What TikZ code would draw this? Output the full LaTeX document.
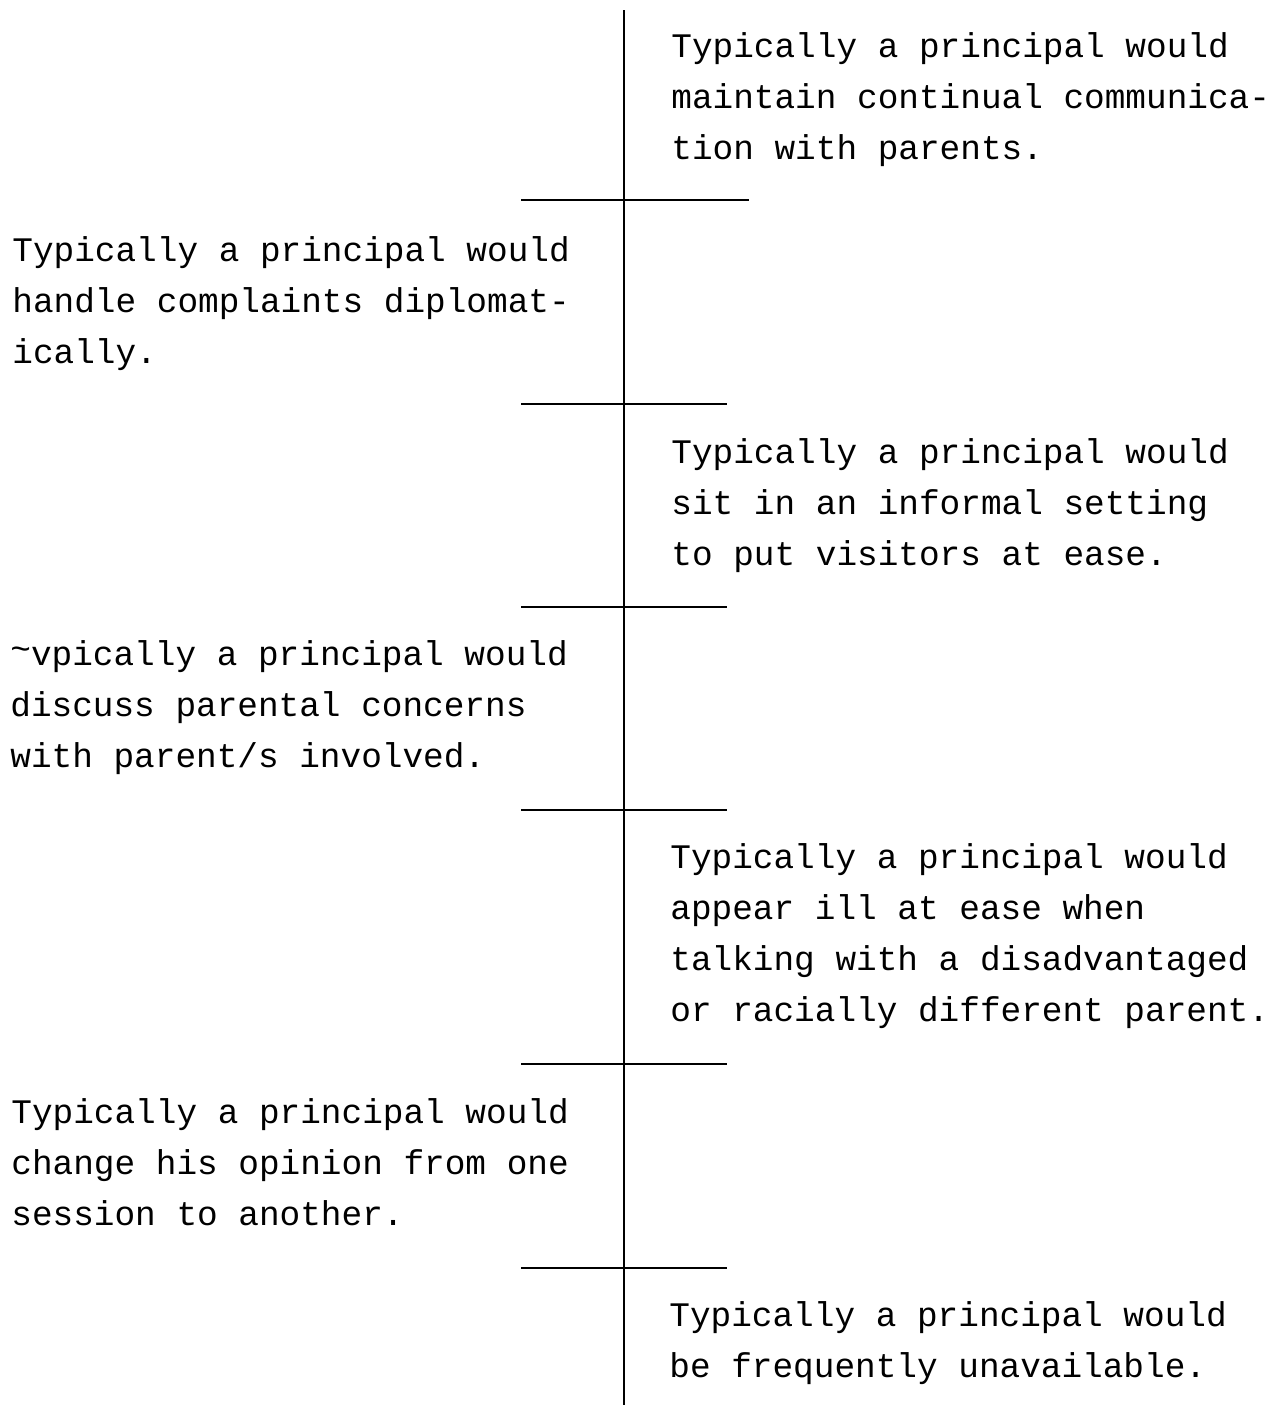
\documentclass[tikz,border=0pt]{standalone}
\usepackage{fontspec}
\setmonofont{Liberation Mono}
\begin{document}
\begin{tikzpicture}[x=0.5pt,y=-0.5pt,
  rule/.style={line width=1.4pt,black},
  % multi-line blocks are anchored at the baseline of their last line
  item/.style={anchor=base west,align=left,inner sep=0pt,
    font=\ttfamily\fontsize{17.2}{25.5}\selectfont}]
\useasboundingbox (0,0) rectangle (1280,1409);
% central spine
\coordinate (top) at (624,10);
\coordinate (bot) at (624,1405);
\draw[rule] (top) -- (bot);
% horizontal dividers
\coordinate (d1a) at (521,200); \coordinate (d1b) at (749,200);
\coordinate (d2a) at (521,404); \coordinate (d2b) at (727,404);
\coordinate (d3a) at (521,607); \coordinate (d3b) at (727,607);
\coordinate (d4a) at (521,810); \coordinate (d4b) at (727,810);
\coordinate (d5a) at (521,1064); \coordinate (d5b) at (727,1064);
\coordinate (d6a) at (521,1268); \coordinate (d6b) at (727,1268);
\foreach \d in {1,...,6} \draw[rule] (d\d a) -- (d\d b);
% statements
\node[item] (r1) at (671,159) {Typically a principal would\\maintain continual communica-\\tion with parents.};
\node[item] (l1) at (12,363) {Typically a principal would\\handle complaints diplomat-\\ically.};
\node[item] (r2) at (671,565) {Typically a principal would\\sit in an informal setting\\to put visitors at ease.};
\node[item] (l2) at (10,767) {\raisebox{0.14em}{\textasciitilde}vpically a principal would\\discuss parental concerns\\with parent/s involved.};
\node[item] (r3) at (670,1021) {Typically a principal would\\appear ill at ease when\\talking with a disadvantaged\\or racially different parent.};
\node[item] (l3) at (11,1225) {Typically a principal would\\change his opinion from one\\session to another.};
\node[item] (r4) at (669,1377) {Typically a principal would\\be frequently unavailable.};
\end{tikzpicture}
\end{document}
